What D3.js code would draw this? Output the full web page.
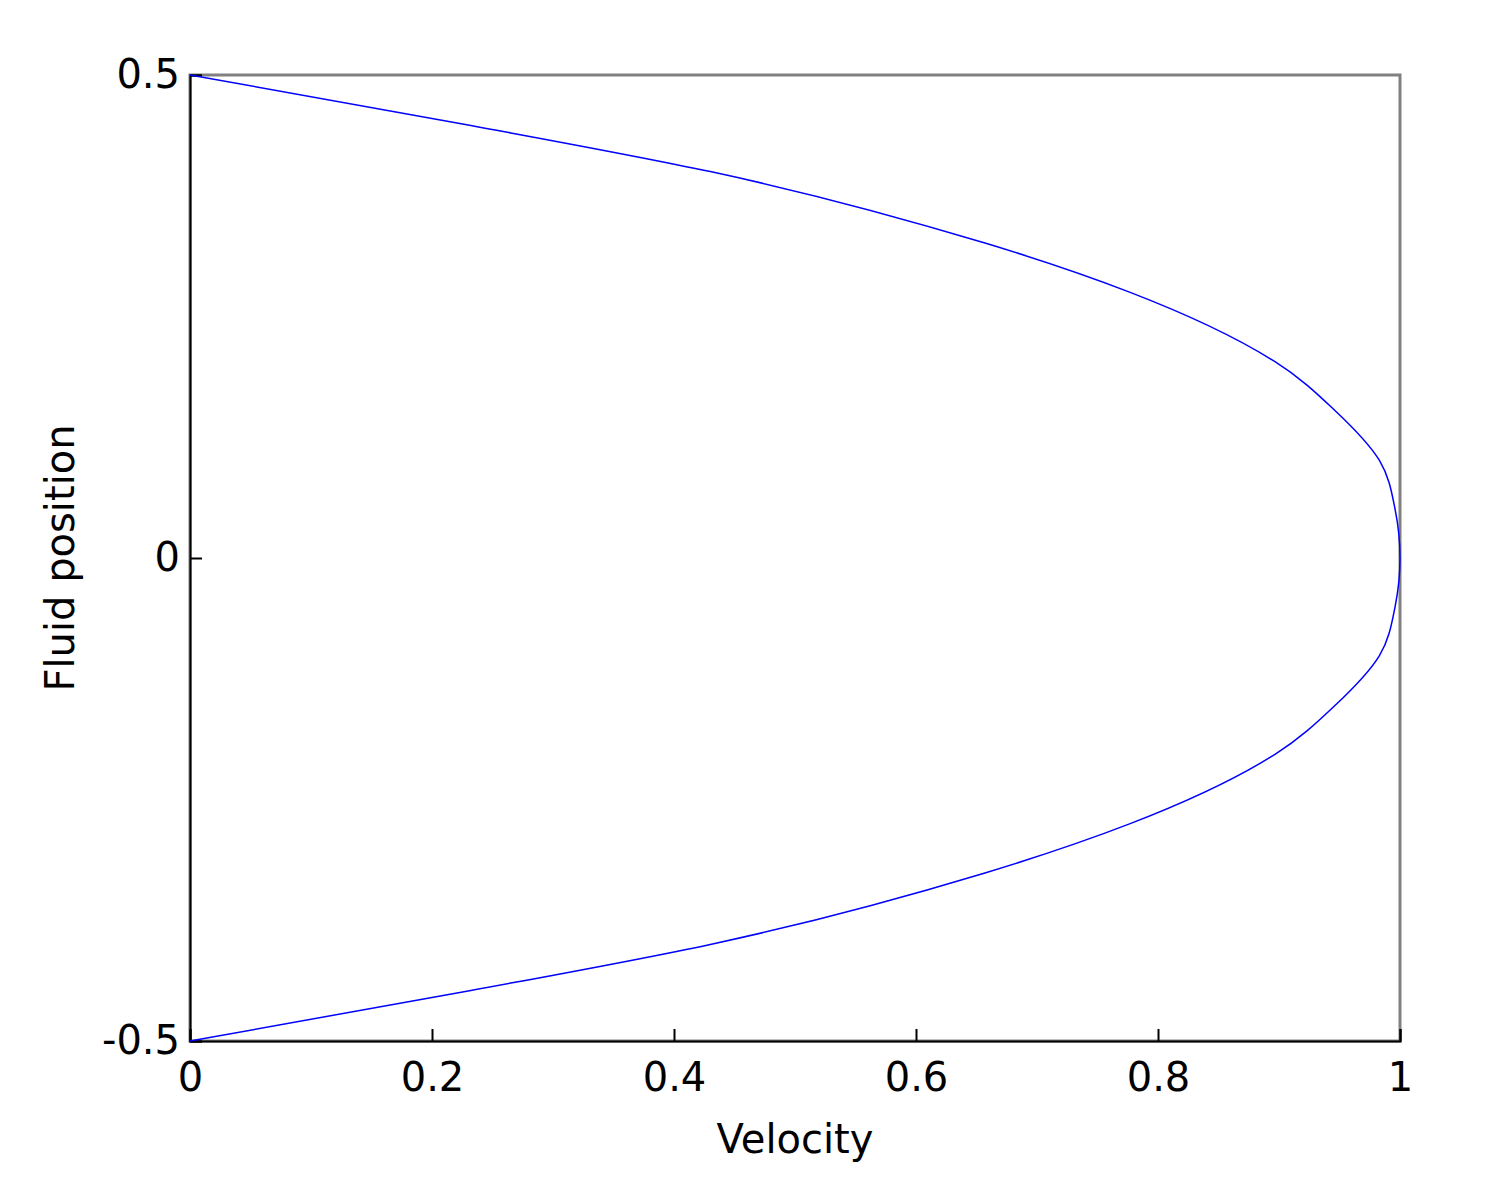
<!DOCTYPE html><html><head><meta charset="utf-8"><script src="https://d3js.org/d3.v7.min.js"></script>
<style>body{margin:0;background:#fff}</style></head><body><svg id="c" width="1502" height="1200"></svg>
<script>
const velocity = [0, 0.231, 0.43, 0.657, 0.777, 0.897, 0.946, 0.983, 0.996, 1, 0.996, 0.983, 0.946, 0.897, 0.777, 0.657, 0.43, 0.231, 0];
const position = [0.5, 0.448, 0.40, 0.326, 0.275, 0.203, 0.153, 0.101, 0.05, 0, -0.05, -0.101, -0.153, -0.203, -0.275, -0.326, -0.40, -0.448, -0.5];
const xTicks = [0, 0.2, 0.4, 0.6, 0.8, 1];
const yTicks = [-0.5, 0, 0.5];
const svg = d3.select("#c");
const L=190,R=1400,T=75,B=1041;
const x=d3.scaleLinear([0,1],[L,R]), y=d3.scaleLinear([-0.5,0.5],[B,T]);
svg.append("rect").attr("x",L).attr("y",T).attr("width",R-L).attr("height",B-T).attr("fill","none").attr("stroke","#808080").attr("stroke-width",3);
const font="DejaVu Sans, sans-serif";
const fmt=d=>String(d);
const ax=svg.append("g").attr("transform",`translate(0,${B})`).call(d3.axisBottom(x).tickValues(xTicks).tickSize(-12).tickPadding(22).tickFormat(fmt));
const ay=svg.append("g").attr("transform",`translate(${L},0)`).call(d3.axisLeft(y).tickValues(yTicks).tickSize(-12).tickPadding(10).tickFormat(fmt));
[ax,ay].forEach(g=>{g.selectAll("text").attr("font-size",40).attr("font-family",font).attr("fill","#000");g.select(".domain").attr("stroke","#000").attr("stroke-width",2);g.selectAll(".tick line").attr("stroke","#000").attr("stroke-width",2);});
ax.selectAll("text").attr("dy","0.71em");
svg.append("path").datum(velocity.map((v,i)=>[v,position[i]])).attr("d",d3.line().curve(d3.curveMonotoneY).x(d=>x(d[0])).y(d=>y(d[1]))).attr("fill","none").attr("stroke","#0000ff").attr("stroke-width",1.5);
svg.append("text").attr("x",(L+R)/2).attr("y",1153).attr("text-anchor","middle").attr("font-size",40).attr("font-family",font).text("Velocity");
svg.append("text").attr("transform",`translate(74,${(T+B)/2}) rotate(-90)`).attr("text-anchor","middle").attr("font-size",40).attr("font-family",font).text("Fluid position");
</script></body></html>
